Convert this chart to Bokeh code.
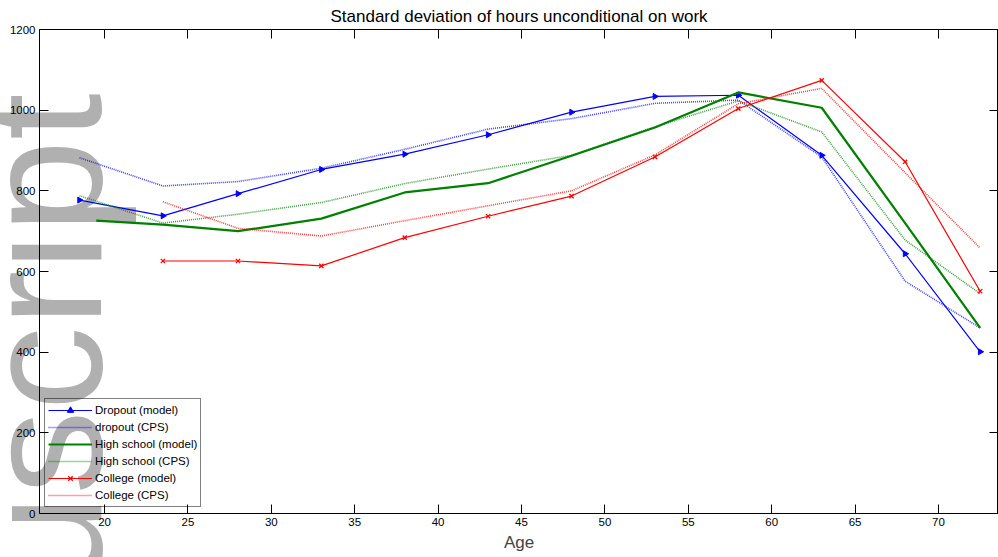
import math
from bokeh.plotting import figure
from bokeh.models import LinearAxis, Range1d, FixedTicker, Legend, CustomLabelingPolicy
from bokeh.core.properties import value
from bokeh.embed import file_html
from bokeh.resources import INLINE

# ---- data ----
ages = [18.5, 23.5, 28, 33, 38, 43, 48, 53, 58, 63, 68, 72.5]
ages_hs_model = [19.5, 23.5, 28, 33, 38, 43, 48, 53, 58, 63, 68, 72.5]
ages_college = [23.5, 28, 33, 38, 43, 48, 53, 58, 63, 68, 72.5]

dropout_model = [777, 738, 793, 853, 891, 939, 995, 1034, 1037, 888, 644, 401]
dropout_cps = [882, 812, 823, 856, 903, 953, 979, 1017, 1025, 884, 576, 460]
hs_model = [726, 716, 700, 731, 796, 819, 887, 957, 1044, 1006, 720, 460]
hs_cps = [788, 720, 742, 771, 818, 854, 888, 959, 1023, 946, 678, 545]
college_model = [626, 626, 614, 684, 737, 787, 884, 1004, 1074, 872, 551]
college_cps = [773, 707, 688, 726, 763, 800, 889, 1016, 1054, 845, 658]

x_ticks = [20, 25, 30, 35, 40, 45, 50, 55, 60, 65, 70]
y_ticks = [0, 200, 400, 600, 800, 1000, 1200]

# watermark text and its anchor (in axis units)
watermark = ["Manuscript"]
wm_x = [16.3]
wm_y = [1042]

FONT = "Liberation Sans"
TOP = "annotation"   # drawn after the watermark

p = figure(width=998, height=557, output_backend="svg", toolbar_location=None,
           x_range=Range1d(16.1, 73.6), y_range=Range1d(0, 1200),
           x_axis_location=None, y_axis_location=None,
           min_border_left=39, min_border_right=0, min_border_top=28, min_border_bottom=44)
p.title.text = "Standard deviation of hours unconditional on work"
p.title.align = "center"
p.title.text_font = FONT
p.title.text_font_size = "17px"
p.title.text_font_style = "normal"
p.title.text_color = "black"
p.title.standoff = 8
p.grid.visible = False
p.outline_line_color = "black"
p.outline_line_width = 1

hide_labels = CustomLabelingPolicy(code="""
try {
  const ids = [...indices.ones()]
  for (const i of ids) indices.unset(i)
} catch (e) {}
return indices
""")

def make_axis(ticks, show_labels, label=None):
    ax = LinearAxis(ticker=FixedTicker(ticks=ticks), level=TOP)
    ax.major_tick_in = 9
    ax.major_tick_out = 0
    ax.minor_tick_in = 0
    ax.minor_tick_out = 0
    ax.axis_line_color = "black"
    ax.major_tick_line_color = "black"
    ax.major_label_text_font = FONT
    ax.major_label_text_color = "black"
    if show_labels:
        ax.major_label_text_font_size = "11.5px"
        ax.major_label_standoff = 4
    else:
        ax.major_label_policy = hide_labels
        ax.major_label_text_font_size = "0px"
        ax.major_label_standoff = 0
    if label:
        ax.axis_label = label
        ax.axis_label_text_font = FONT
        ax.axis_label_text_font_size = "17px"
        ax.axis_label_text_font_style = "normal"
        ax.axis_label_standoff = 4
    return ax

p.add_layout(make_axis(x_ticks, True, "Age"), "below")
p.add_layout(make_axis(y_ticks, True), "left")
p.add_layout(make_axis(x_ticks, False), "above")
p.add_layout(make_axis(y_ticks, False), "right")

# watermark (beneath lines, axes and legend)
p.text(x=wm_x, y=wm_y, text=watermark, angle=math.pi / 2, text_align="right",
       text_baseline="alphabetic", text_font=value(FONT), text_font_size=value("168px"),
       text_color="#b0b0b0", level="guide")

blue = "#0000ff"
green = "#008000"
red = "#ff0000"

r1 = p.line(ages, dropout_model, line_color=blue, line_width=1.2, level=TOP)
r1m = p.scatter(ages, dropout_model, marker="triangle", angle=-math.pi / 2, size=6,
                fill_color=blue, line_color=blue, level=TOP)
r2 = p.line(ages, dropout_cps, line_color=blue, line_width=1.6, line_dash="1 1",
            line_alpha=0.75, level=TOP)
r3 = p.line(ages_hs_model, hs_model, line_color=green, line_width=2.2, level=TOP)
r4 = p.line(ages, hs_cps, line_color=green, line_width=1.6, line_dash="1 1",
            line_alpha=0.75, level=TOP)
r5 = p.line(ages_college, college_model, line_color=red, line_width=1.2, level=TOP)
r5m = p.scatter(ages_college, college_model, marker="x", size=6, line_color=red,
                line_width=1.3, level=TOP)
r6 = p.line(ages_college, college_cps, line_color=red, line_width=1.6, line_dash="1 1",
            line_alpha=0.75, level=TOP)

legend = Legend(items=[("Dropout (model)", [r1, r1m]), ("dropout (CPS)", [r2]),
                       ("High school (model)", [r3]), ("High school (CPS)", [r4]),
                       ("College (model)", [r5, r5m]), ("College (CPS)", [r6])],
                location=(5, 6))
legend.background_fill_alpha = 0
legend.border_line_color = "black"
legend.border_line_width = 1
legend.label_text_font = FONT
legend.label_text_font_size = "11.5px"
legend.label_text_color = "black"
legend.glyph_width = 44
legend.glyph_height = 16
legend.label_height = 16
legend.spacing = 1
legend.padding = 3
legend.margin = 0
legend.label_standoff = 3
p.add_layout(legend, "center")

open("out.html", "w").write(file_html(p, INLINE))
